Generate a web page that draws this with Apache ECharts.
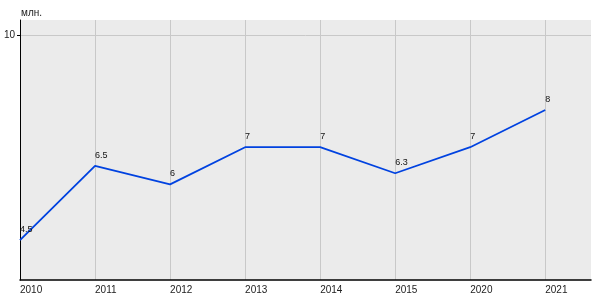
<!DOCTYPE html>
<html>
<head>
<meta charset="utf-8">
<script src="https://cdn.jsdelivr.net/npm/echarts@6/dist/echarts.min.js"></script>
<style>html,body{margin:0;padding:0;background:#fff}#c{width:600px;height:300px}</style>
</head>
<body>
<div id="c"></div>
<script>
const categories = ['2010', '2011', '2012', '2013', '2014', '2015', '2020', '2021'];
const values = [4.5, 6.5, 6, 7, 7, 6.3, 7, 8];
const valueLabels = ['4.5', '6.5', '6', '7', '7', '6.3', '7', '8'];
const yTicks = [10];
const yName = 'млн.';

const idx = categories.map((c, i) => i);
const chart = echarts.init(document.getElementById('c'), null, {renderer: 'canvas'});
const font = 'Liberation Sans, Arial, sans-serif';
chart.setOption({
  animation: false,
  grid: {left: 20, right: 9, top: 20, bottom: 20, show: true, backgroundColor: '#ebebeb', borderWidth: 0},
  xAxis: {
    type: 'value', min: 0, max: 7.61,
    axisLine: {show: true, onZero: false, lineStyle: {color: '#000', width: 1.5}},
    axisTick: {show: false, customValues: idx},
    axisLabel: {customValues: idx, formatter: v => categories[Math.round(v)], align: 'left', margin: 5,
      color: '#222', fontSize: 10, fontFamily: font, showMaxLabel: true, showMinLabel: true},
    splitLine: {show: true, lineStyle: {color: '#c8c8c8', width: 1}}
  },
  yAxis: {
    type: 'value', min: 3.43, max: 10.42,
    name: yName, nameLocation: 'end', nameGap: 2,
    nameTextStyle: {color: '#222', fontSize: 10, fontFamily: font, align: 'left', padding: [0, 0, 0, 1]},
    axisLine: {show: true, lineStyle: {color: '#000', width: 1}},
    axisTick: {show: true, length: 3, customValues: yTicks, lineStyle: {color: '#000'}},
    axisLabel: {customValues: yTicks, color: '#222', fontSize: 10, fontFamily: font, margin: 5},
    splitLine: {show: true, lineStyle: {color: '#c8c8c8', width: 1}}
  },
  series: [{
    type: 'line',
    data: values.map((v, i) => [idx[i], v]),
    symbol: 'circle', symbolSize: 0,
    lineStyle: {color: '#0042e0', width: 1.8},
    itemStyle: {color: '#0042e0'},
    label: {show: true, position: 'top', align: 'left', distance: 6,
      formatter: p => valueLabels[p.dataIndex],
      color: '#111', fontSize: 9, fontFamily: font}
  }]
});
</script>
</body>
</html>
